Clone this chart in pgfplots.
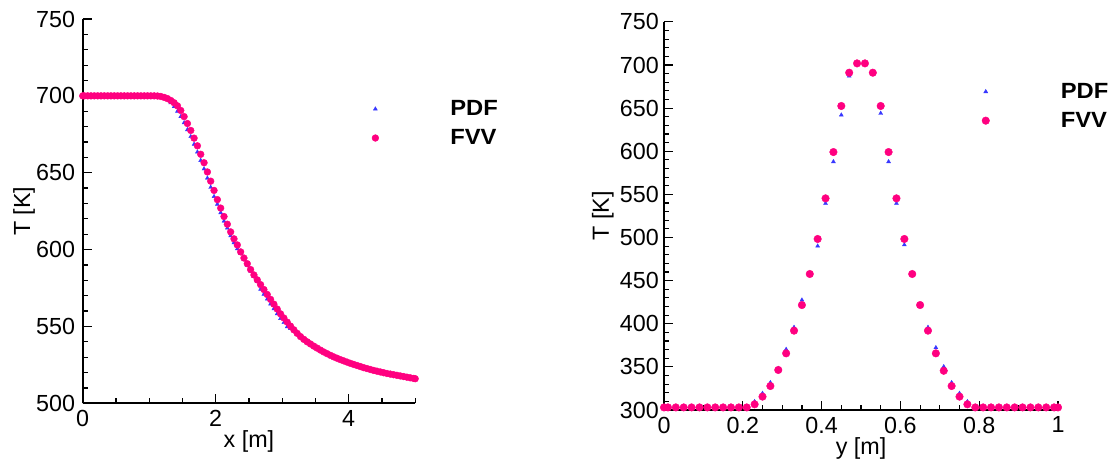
\documentclass[border=0pt]{standalone}
\usepackage{fontspec}
\setmainfont{Liberation Sans}
\newfontfamily\legfont[FakeStretch=1.08]{Liberation Sans}
\usepackage{pgfplots}
\usepackage{pgfplotstable}
\pgfplotsset{compat=1.18}
\definecolor{fvv}{RGB}{255,0,128}
\definecolor{pdfc}{RGB}{55,55,255}
\newcommand\tf{\fontsize{23.3}{28}\selectfont}
\newcommand\lf{\legfont\bfseries\fontsize{22}{26}\selectfont}

\pgfplotstableread{
x T
0 700
0.025 700
0.075 700
0.125 700
0.175 700
0.225 700
0.275 700
0.325 700
0.375 700
0.425 700
0.475 700
0.525 700
0.575 700
0.625 700
0.675 700
0.725 700
0.775 700
0.825 700
0.875 700
0.925 700
0.975 700
1.025 700
1.075 700
1.125 699.9
1.175 699.6
1.225 699.0
1.275 698.2
1.325 697.0
1.375 695.5
1.425 693.5
1.475 690.5
1.525 686.5
1.575 682.0
1.625 677.5
1.675 672.5
1.725 667.5
1.775 662.0
1.825 656.5
1.875 650.5
1.925 644.5
1.975 638.5
2.025 632.5
2.075 627.0
2.125 621.5
2.175 616.5
2.225 611.5
2.275 607.0
2.325 603.0
2.375 598.5
2.425 594.5
2.475 590.8
2.525 587.0
2.575 583.5
2.625 580.3
2.675 577.2
2.725 574.0
2.775 570.8
2.825 567.6
2.875 564.5
2.925 561.3
2.975 558.2
3.025 555.5
3.075 552.8
3.125 550.2
3.175 547.8
3.225 545.5
3.275 543.4
3.325 541.6
3.375 540.0
3.425 538.6
3.475 537.2
3.525 535.9
3.575 534.6
3.625 533.4
3.675 532.3
3.725 531.2
3.775 530.2
3.825 529.3
3.875 528.4
3.925 527.6
3.975 526.8
4.025 526.0
4.075 525.3
4.125 524.6
4.175 523.9
4.225 523.2
4.275 522.6
4.325 522.0
4.375 521.4
4.425 520.9
4.475 520.4
4.525 519.9
4.575 519.4
4.625 519.0
4.675 518.6
4.725 518.2
4.775 517.8
4.825 517.4
4.875 517.0
4.925 516.6
4.975 516.2
5 516.0
}\leftfvv

\pgfplotstableread{
x T
0 700
0.025 700
0.075 700
0.125 700
0.175 700
0.225 700
0.275 700
0.325 700
0.375 700
0.425 700
0.475 700
0.525 700
0.575 700
0.625 700
0.675 700
0.725 700
0.775 700
0.825 700
0.875 700
0.925 700
0.975 700
1.025 700
1.075 700
1.125 699.9
1.175 699.6
1.225 699.0
1.275 697.7
1.325 695.5
1.375 693.0
1.425 690.0
1.475 686.5
1.525 682.5
1.575 678.0
1.625 673.5
1.675 668.5
1.725 663.5
1.775 658.0
1.825 652.5
1.875 646.5
1.925 640.5
1.975 634.5
2.025 629.5
2.075 624.0
2.125 618.5
2.175 614.0
2.225 609.0
2.275 604.5
2.325 600.5
2.375 597.5
2.425 593.5
2.475 589.8
2.525 586.0
2.575 582.5
2.625 579.3
2.675 574.2
2.725 571.0
2.775 567.8
2.825 564.6
2.875 561.5
2.925 558.3
2.975 555.2
3.025 552.5
3.075 549.8
3.125 548.7
3.175 547.8
3.225 545.5
3.275 543.4
3.325 541.6
3.375 540.0
3.425 538.6
3.475 537.2
3.525 535.9
3.575 534.6
3.625 533.4
3.675 532.3
3.725 531.2
3.775 530.2
3.825 529.3
3.875 528.4
3.925 527.6
3.975 526.8
4.025 526.0
4.075 525.3
4.125 524.6
4.175 523.9
4.225 523.2
4.275 522.6
4.325 522.0
4.375 521.4
4.425 520.9
4.475 520.4
4.525 519.9
4.575 519.4
4.625 519.0
4.675 518.6
4.725 518.2
4.775 517.8
4.825 517.4
4.875 517.0
4.925 516.6
4.975 516.2
5 516.0
}\leftpdf

\pgfplotstableread{
x T
0 303
0.01 303
0.03 303
0.05 303
0.07 303
0.09 303
0.11 303
0.13 303
0.15 303
0.17 303
0.19 303
0.21 303
0.23 306.6
0.25 315.5
0.27 327.8
0.29 346.4
0.31 365.7
0.33 392.0
0.35 421.7
0.37 457.7
0.39 498.3
0.41 545.4
0.43 599.1
0.45 652.5
0.47 691.1
0.49 701.9
0.51 701.9
0.53 691.1
0.55 652.5
0.57 599.1
0.59 545.4
0.61 498.3
0.63 457.7
0.65 421.7
0.67 392.0
0.69 365.7
0.71 345.5
0.73 327.8
0.75 315.5
0.77 306.6
0.79 303
0.81 303
0.83 303
0.85 303
0.87 303
0.89 303
0.91 303
0.93 303
0.95 303
0.97 303
0.99 303
1 303
}\rightfvv

\pgfplotstableread{
x T
0 303
0.01 303
0.03 303
0.05 303
0.07 303
0.09 303
0.11 303
0.13 303
0.15 303
0.17 303
0.19 303
0.21 303
0.23 309.7
0.25 319.3
0.27 331.7
0.29 348.0
0.31 370.3
0.33 395.8
0.35 427.5
0.37 457.0
0.39 490.1
0.41 539.6
0.43 587.9
0.45 642.0
0.47 687.2
0.49 701.5
0.51 701.5
0.53 689.0
0.55 644.0
0.57 587.9
0.59 539.6
0.61 491.5
0.63 456.0
0.65 420.0
0.67 395.8
0.69 372.3
0.71 350.2
0.73 331.7
0.75 319.3
0.77 309.7
0.79 303
0.81 303
0.83 303
0.85 303
0.87 303
0.89 303
0.91 303
0.93 303
0.95 303
0.97 303
0.99 303
1 303
}\rightpdf

\pgfplotsset{
  tbase/.style={
    scale only axis, clip=false,
    axis x line=bottom, axis y line=left,
    axis line style={-, line width=1.8pt, black},
    tick align=inside,
    major tick length=9pt, minor tick length=5pt,
    tick style={black, line width=1.2pt},
    tick label style={font=\tf, black},
    label style={font=\tf, inner sep=0pt},
    /pgf/number format/assume math mode=true,
    xticklabel style={anchor=north, inner sep=0pt, yshift=-6.7pt},
    legend image code/.code={\draw[##1] plot coordinates {(0pt,0pt)}; \path[draw=none, fill=none] (-3pt,-10pt) rectangle (75pt,10pt);},
    legend style={draw=none, fill=none, inner sep=0pt, outer sep=0pt,
      row sep=9pt, column sep=0pt, font=\lf,
      nodes={inner sep=0pt, anchor=west}, anchor=north west},
  },
}

\begin{document}
\begin{tikzpicture}
\useasboundingbox (0,0) rectangle (1114pt,461pt);
\begin{axis}[tbase,
  at={(82.7pt,57.7pt)}, anchor=south west,
  width=332.5pt, height=384.3pt,
  xmin=0, xmax=5, ymin=500, ymax=750,
  xtick={0,2,4}, minor xtick={0.5,1,1.5,2.5,3,3.5,4.5,5},
  ytick={500,550,600,650,700,750}, minor y tick num=4,
  yticklabel style={anchor=east, inner sep=0pt, xshift=-7.5pt},
  xlabel={x [m]}, ylabel={T [K]},
  xlabel style={at={(axis description cs:0.5,-0.0984)}, anchor=center},
  ylabel style={at={(axis description cs:-0.1765,0.5)}, anchor=center},
  legend style={at={(axis description cs:0.870,0.7918)}},
]
\addplot[only marks, mark=triangle*, mark size=2.3pt, color=pdfc] table[x=x,y=T] {\leftpdf};
\addlegendentry{PDF}
\addplot[only marks, mark=*, mark size=3.4pt, color=fvv] table[x=x,y=T] {\leftfvv};
\addlegendentry{FVV}
\end{axis}

\begin{axis}[tbase,
  at={(664pt,51pt)}, anchor=south west,
  width=394pt, height=388.1pt,
  xmin=0, xmax=1, ymin=300, ymax=750,
  xtick={0,0.2,0.4,0.6,0.8,1}, minor x tick num=3,
  ytick={300,350,400,450,500,550,600,650,700,750}, minor y tick num=4,
  yticklabel style={anchor=east, inner sep=0pt, xshift=-5pt},
  xlabel={y [m]}, ylabel={T [K]},
  xlabel style={at={(axis description cs:0.5,-0.100)}, anchor=center},
  ylabel style={at={(axis description cs:-0.155,0.5)}, anchor=center},
  legend style={at={(axis description cs:0.807,0.846)}},
]
\addplot[only marks, mark=triangle*, mark size=2.3pt, color=pdfc] table[x=x,y=T] {\rightpdf};
\addlegendentry{PDF}
\addplot[only marks, mark=*, mark size=3.8pt, color=fvv] table[x=x,y=T] {\rightfvv};
\addlegendentry{FVV}
\end{axis}
\end{tikzpicture}
\end{document}
